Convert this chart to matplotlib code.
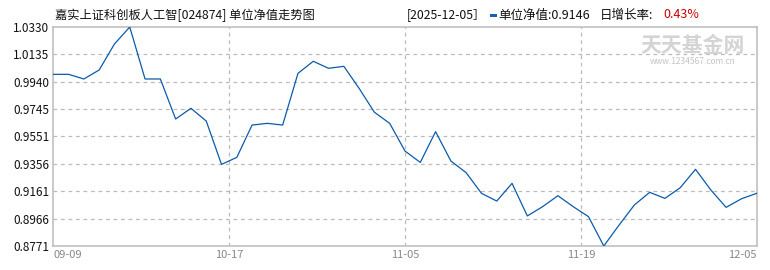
import matplotlib
matplotlib.use("Agg")
import matplotlib.pyplot as plt
from matplotlib.patches import Rectangle
import numpy as np

plt.rcParams['font.family'] = ['Noto Sans CJK SC', 'DejaVu Sans']

title = "嘉实上证科创板人工智[024874] 单位净值走势图"
nav = [0.9993, 0.9993, 0.9960, 1.0024, 1.0209, 1.0330, 0.9960, 0.9960, 0.9675, 0.9751,
       0.9661, 0.9352, 0.9402, 0.9632, 0.9644, 0.9632, 1.0000, 1.0086, 1.0036, 1.0050,
       0.9893, 0.9723, 0.9644, 0.9447, 0.9366, 0.9585, 0.9376, 0.9293, 0.9146, 0.9091,
       0.9217, 0.8985, 0.9051, 0.9129, 0.9051, 0.8980, 0.8771, 0.8920, 0.9063, 0.9153,
       0.9110, 0.9186, 0.9317, 0.9170, 0.9046, 0.9107, 0.9146]
x_labels = ["09-09", "10-17", "11-05", "11-19", "12-05"]
y_ticks = [0.8771, 0.8966, 0.9161, 0.9356, 0.9551, 0.9745, 0.9940, 1.0135, 1.0330]
last_date = "2025-12-05"
last_nav = "0.9146"
day_change = "0.43%"

fig = plt.figure(figsize=(7.7, 2.7), dpi=100)
ax = fig.add_axes([53.3 / 770, 1 - 246 / 270, (756.7 - 53.3) / 770, (246 - 27) / 270])

n = len(nav)
xs = np.arange(n)
ax.plot(xs, nav, color='#0b5bab', lw=0.9, zorder=3)

ax.set_xlim(0, n - 1)
ax.set_ylim(min(y_ticks), max(y_ticks))
ax.set_yticks(y_ticks)
ax.set_yticklabels([f"{v:.4f}" for v in y_ticks])
xt = np.linspace(0, n - 1, len(x_labels))
ax.set_xticks(xt)
ax.set_xticklabels(x_labels)

grid_kw = dict(color='#bbbbbb', lw=0.9, ls=(0, (3, 3)), zorder=1)
for v in y_ticks[1:-1]:
    ax.axhline(v, **grid_kw)
for v in xt[1:-1]:
    ax.axvline(v, **grid_kw)

for s in ax.spines.values():
    s.set_color('#c0c0c0')
    s.set_linewidth(1.2)

ax.tick_params(axis='both', length=0)
ax.tick_params(axis='y', labelsize=8.5, labelcolor='#111111', pad=3)
ax.tick_params(axis='x', labelsize=8, labelcolor='#888888', pad=3)
labs = ax.get_xticklabels()
labs[0].set_ha('left')
labs[-1].set_ha('right')

# watermark
fig.text(693 / 770, 1 - 46 / 270, "天天基金网", ha='center', va='center',
         fontsize=15, fontweight='bold', color='#d4d4d4')
fig.text(693 / 770, 1 - 62 / 270, "www.1234567.com.cn", ha='center', va='center',
         fontsize=6, color='#c4c4c4')

# header
ty = 1 - 15 / 270
fig.text(55 / 770, ty, title, ha='left', va='center', fontsize=8.8, color='#111111')
fig.text(407 / 770, ty, "[" + last_date + "］", ha='left', va='center', fontsize=8.8, color='#111111')
fig.patches.append(Rectangle((490 / 770, 1 - 17 / 270), 7 / 770, 3 / 270,
                             transform=fig.transFigure, facecolor='#1a5fb4', edgecolor='none'))
fig.text(498 / 770, ty, "单位净值:" + last_nav, ha='left', va='center', fontsize=9, color='#111111')
fig.text(600 / 770, ty, "日增长率:", ha='left', va='center', fontsize=9, color='#111111')
fig.text(663 / 770, ty, day_change, ha='left', va='center', fontsize=9, color='#cc0000')

fig.savefig("out.png", dpi=100)
